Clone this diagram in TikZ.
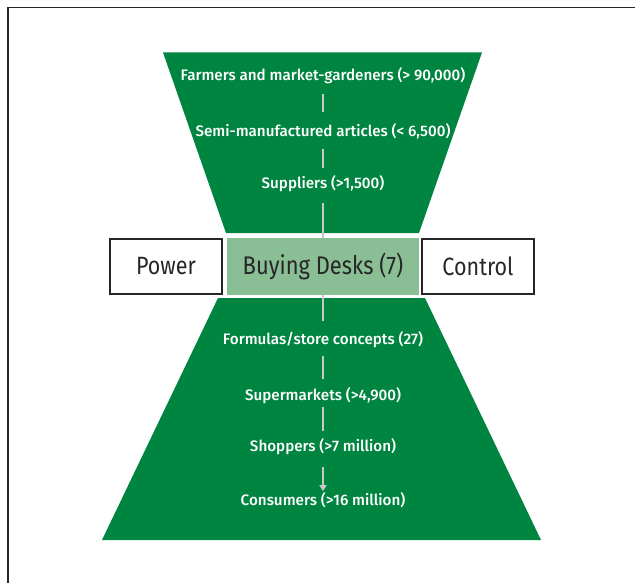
\documentclass[tikz,border=0pt]{standalone}
\usepackage{fontspec}
\setmainfont{Fira Sans}
\newfontfamily\wfont{Fira Sans Medium}
\newfontfamily\bfont[FakeStretch=0.86]{Fira Sans}
\usetikzlibrary{arrows.meta}
\definecolor{hgreen}{HTML}{008540}
\definecolor{lgreen}{HTML}{8ABF95}
\definecolor{lline}{HTML}{C8C8C8}
\begin{document}
\begin{tikzpicture}[x=1pt,y=-1pt,
  wtext/.style={text=white,font=\wfont\fontsize{15.2}{17}\selectfont,inner sep=0pt},
  sidebox/.style={draw=black!85,line width=1.6pt,minimum width=112pt,minimum height=55pt,inner sep=0pt,font=\bfont\fontsize{25}{27}\selectfont,text=black!85},
  link/.style={draw=lline,line width=1.6pt}]
\useasboundingbox (0,0) rectangle (635,583);
% frame (cropped at right and bottom)
\draw[line width=1.4pt,black!85] (8,590) -- (8,7.5) -- (640,7.5);
% hourglass halves
\fill[hgreen] (163,52.5) -- (482,52.5) -- (419,233) -- (226,233) -- cycle;
\fill[hgreen] (218,298) -- (425,298) -- (541,540) -- (102,540) -- cycle;
% middle row
\node[fill=lgreen,minimum width=192pt,minimum height=57pt,inner sep=0pt,font=\bfont\fontsize{25.5}{27}\selectfont,text=black!85] (desk) at (323,266.5) {Buying Desks (7)};
\node[sidebox] (power) at (166,266.5) {Power};
\node[sidebox] (control) at (478,266.5) {Control};
% upper texts
\node[wtext] (farm) at (323,76) {Farmers and market-gardeners (> 90,000)};
\node[wtext] (semi) at (323,131) {Semi-manufactured articles (< 6,500)};
\node[wtext] (supp) at (323,184) {Suppliers (>1,500)};
% lower texts
\node[wtext] (form) at (323,340) {Formulas/store concepts (27)};
\node[wtext] (super) at (323,396) {Supermarkets (>4,900)};
\node[wtext] (shop) at (323,447) {Shoppers (>7 million)};
\node[wtext] (cons) at (323,500) {Consumers (>16 million)};
% connectors
\draw[link] ([yshift=-10pt]farm.south) -- ([yshift=11pt]semi.north);
\draw[link] ([yshift=-10pt]semi.south) -- ([yshift=8pt]supp.north);
\draw[link] ([yshift=-11pt]supp.south) -- (desk.north);
\draw[link] (desk.south) -- ([yshift=11pt]form.north);
\draw[link] ([yshift=-8pt]form.south) -- ([yshift=9pt]super.north);
\draw[link] ([yshift=-3pt]super.south) -- ([yshift=8pt]shop.north);
\draw[link,-{Triangle[width=7pt,length=6pt]}] ([yshift=-12pt]shop.south) -- ([yshift=1pt]cons.north);
\end{tikzpicture}
\end{document}
